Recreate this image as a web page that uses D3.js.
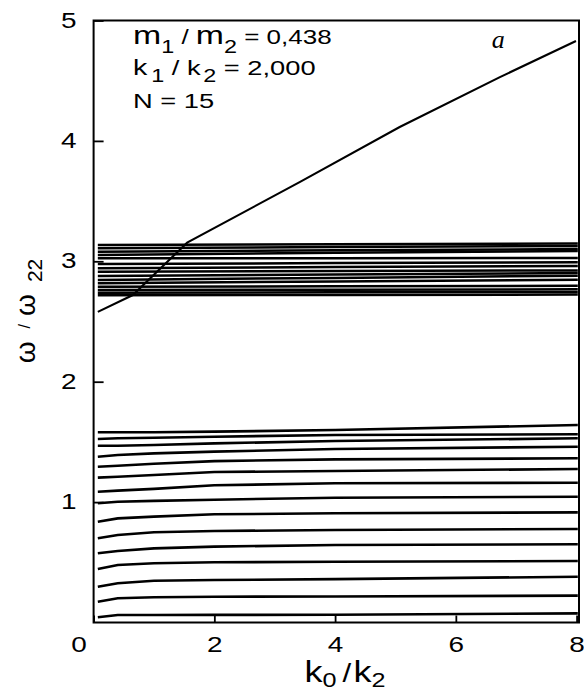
<!DOCTYPE html>
<html>
<head>
<meta charset="utf-8">
<script src="https://cdn.jsdelivr.net/npm/d3@7"></script>
<style>
  body { margin: 0; background: #fff; }
  svg { display: block; font-family: "Liberation Sans", Arial, sans-serif; }
</style>
</head>
<body>
<div id="chart"></div>
<script>
const kLower = [0.07, 0.4, 1, 2, 4, 8.02]
const kUpper = [0.07, 4, 8.02]
const kLocal = [0.07, 0.65, 1.55, 3.42, 5.07, 6.73, 7.99]

// lower (acoustic) branch, 15 modes, bottom to top
const lowerBranch = [
    [0.043, 0.062, 0.062, 0.063, 0.064, 0.076],
    [0.173, 0.201, 0.210, 0.214, 0.216, 0.223],
    [0.297, 0.326, 0.347, 0.353, 0.360, 0.380],
    [0.444, 0.478, 0.492, 0.500, 0.504, 0.511],
    [0.575, 0.594, 0.616, 0.630, 0.644, 0.650],
    [0.699, 0.727, 0.749, 0.760, 0.768, 0.777],
    [0.837, 0.865, 0.879, 0.899, 0.907, 0.915],
    [0.990, 1.003, 1.010, 1.020, 1.036, 1.045],
    [1.086, 1.095, 1.110, 1.140, 1.156, 1.161],
    [1.203, 1.211, 1.225, 1.250, 1.258, 1.275],
    [1.294, 1.302, 1.318, 1.340, 1.355, 1.364],
    [1.377, 1.391, 1.405, 1.419, 1.441, 1.460],
    [1.468, 1.468, 1.474, 1.488, 1.507, 1.530],
    [1.524, 1.530, 1.535, 1.543, 1.557, 1.563],
    [1.580, 1.580, 1.580, 1.585, 1.599, 1.640]
]

// upper (optical) branch, 15 modes, bottom to top
const upperBranch = [
    [2.718, 2.721, 2.724],
    [2.739, 2.742, 2.745],
    [2.761, 2.764, 2.767],
    [2.789, 2.793, 2.797],
    [2.818, 2.833, 2.847],
    [2.845, 2.862, 2.880],
    [2.878, 2.890, 2.903],
    [2.914, 2.919, 2.924],
    [2.942, 2.952, 2.961],
    [2.978, 2.985, 2.992],
    [3.025, 3.026, 3.027],
    [3.052, 3.070, 3.086],
    [3.080, 3.091, 3.102],
    [3.108, 3.118, 3.127],
    [3.136, 3.142, 3.148]
]

// localized mode
const wLocal = [2.58, 2.72, 3.155, 3.66, 4.115, 4.53, 4.83]

const xTicks = [0, 2, 4, 6, 8]
const yTicks = [1, 2, 3, 4, 5]
const xTickLabels = ['0', '2', '4', '6', '8']
const yTickLabels = ['1', '2', '3', '4', '5']

const widthD3 = 584
const heightD3 = 694
const stretch = 1.27

let xScale
let yScale

const svg = d3.select('#chart').append('svg')

const drawCanvas = () => {
    svg.attr('width', widthD3)
    svg.attr('height', heightD3)
    svg.append('rect')
        .attr('width', widthD3)
        .attr('height', heightD3)
        .attr('fill', '#fff')
}

const generateScales = () => {
    xScale = d3.scaleLinear()
        .domain([0, 8.04])
        .range([93.6, 579])

    yScale = d3.scaleLinear()
        .domain([0, 5])
        .range([622.5, 20.5])
}

const generateAxis = () => {
    let xAxis = d3.axisBottom(xScale)
        .tickValues(xTicks)
        .tickFormat((d, i) => xTickLabels[i])
        .tickSizeInner(-7)
        .tickSizeOuter(0)

    let yAxis = d3.axisLeft(yScale)
        .tickValues(yTicks)
        .tickFormat((d, i) => yTickLabels[i])
        .tickSizeInner(-10)
        .tickSizeOuter(0)

    let gx = svg.append('g')
        .attr('id', 'x-axis')
        .attr('transform', `translate(0, ${yScale(0)})`)
        .call(xAxis)
    gx.select('.domain').remove()
    gx.selectAll('line').attr('stroke', '#000').attr('stroke-width', 1.8)
    gx.selectAll('text')
        .attr('font-size', 22)
        .attr('font-family', '"Liberation Sans", Arial, sans-serif')
        .attr('fill', '#000')
        .attr('y', 29.5)
        .attr('dy', null)
        .attr('x', (d) => d === 0 ? -15 / stretch : 0)
        .attr('transform', `scale(${stretch},1)`)

    let gy = svg.append('g')
        .attr('id', 'y-axis')
        .attr('transform', `translate(${xScale(0)}, 0)`)
        .call(yAxis)
    gy.select('.domain').remove()
    gy.selectAll('line').attr('stroke', '#000').attr('stroke-width', 1.8)
    gy.selectAll('text')
        .attr('font-size', 22)
        .attr('font-family', '"Liberation Sans", Arial, sans-serif')
        .attr('fill', '#000')
        .attr('x', -17 / stretch)
        .attr('dy', '0.3em')
        .attr('transform', `scale(${stretch},1)`)

    // plot frame
    svg.append('rect')
        .attr('x', xScale(0))
        .attr('y', yScale(5))
        .attr('width', xScale(8.04) - xScale(0))
        .attr('height', yScale(0) - yScale(5))
        .attr('fill', 'none')
        .attr('stroke', '#000')
        .attr('stroke-width', 2)
}

const drawLines = () => {
    const line = d3.line()
        .x((d) => xScale(d.k))
        .y((d) => yScale(d.w))

    const lower = lowerBranch.map((ws) => ws.map((w, i) => ({k: kLower[i], w: w})))
    const upper = upperBranch.map((ws) => ws.map((w, i) => ({k: kUpper[i], w: w})))
    const local = wLocal.map((w, i) => ({k: kLocal[i], w: w}))

    svg.append('g').attr('class', 'lower')
        .selectAll('path')
        .data(lower)
        .enter()
        .append('path')
        .attr('d', line)
        .attr('fill', 'none')
        .attr('stroke', '#000')
        .attr('stroke-width', 2.6)

    svg.append('g').attr('class', 'upper')
        .selectAll('path')
        .data(upper)
        .enter()
        .append('path')
        .attr('d', line)
        .attr('fill', 'none')
        .attr('stroke', '#000')
        .attr('stroke-width', 2.5)

    svg.append('path')
        .datum(local)
        .attr('class', 'local')
        .attr('d', line)
        .attr('fill', 'none')
        .attr('stroke', '#000')
        .attr('stroke-width', 2.1)
}

const drawLabels = () => {
    // x title
    let xt = svg.append('text')
        .attr('transform', 'translate(345, 681.7) scale(1.2,1)')
        .attr('text-anchor', 'middle')
        .attr('fill', '#000')
    xt.append('tspan').attr('font-size', 30).text('k')
    xt.append('tspan').attr('font-size', 21).attr('dy', 5).text('0')
    xt.append('tspan').attr('font-size', 26).attr('dy', -5).attr('dx', 5).text('/')
    xt.append('tspan').attr('font-size', 30).attr('dx', 2).text('k')
    xt.append('tspan').attr('font-size', 21).attr('dy', 5).text('2')

    // y title
    let yt = svg.append('text')
        .attr('transform', 'translate(35, 311) rotate(-90)')
        .attr('text-anchor', 'middle')
        .attr('fill', '#000')
    yt.append('tspan').attr('font-size', 28).text('ω')
    yt.append('tspan').attr('font-size', 16).attr('dx', 13).attr('dy', -5).text('/')
    yt.append('tspan').attr('font-size', 28).attr('dx', 8).attr('dy', 5).text('ω')
    yt.append('tspan').attr('font-size', 21).attr('dx', 12).attr('dy', 7).text('22')

    // parameters
    let note = svg.append('g')
        .attr('transform', `translate(133, 0) scale(1.3,1)`)
        .attr('fill', '#000')

    let l1 = note.append('text').attr('y', 44).attr('font-size', 20)
    l1.append('tspan').attr('font-size', 26).text('m')
    l1.append('tspan').attr('font-size', 18).attr('dy', 9).text('1')
    l1.append('tspan').attr('dy', -9).text('\u00a0/\u00a0')
    l1.append('tspan').attr('font-size', 26).text('m')
    l1.append('tspan').attr('font-size', 18).attr('dy', 9).text('2')
    l1.append('tspan').attr('dy', -9).text('\u00a0=\u00a00,438')

    let l2 = note.append('text').attr('y', 75).attr('font-size', 21)
    l2.append('tspan').attr('font-size', 22).text('k')
    l2.append('tspan').attr('font-size', 18).attr('dx', 3).attr('dy', 7).text('1')
    l2.append('tspan').attr('dy', -7).text('\u00a0/\u00a0k')
    l2.append('tspan').attr('font-size', 18).attr('dx', 2).attr('dy', 7).text('2')
    l2.append('tspan').attr('dy', -7).text('\u00a0=\u00a02,000')

    note.append('text').attr('y', 108).attr('font-size', 21).text('N\u00a0=\u00a015')

    svg.append('text')
        .attr('x', 491.7)
        .attr('y', 48)
        .attr('font-family', '"Liberation Serif", "Times New Roman", serif')
        .attr('font-style', 'italic')
        .attr('font-size', 26)
        .attr('fill', '#000')
        .text('a')
}

drawCanvas()
generateScales()
drawLines()
generateAxis()
drawLabels()
</script>
</body>
</html>
